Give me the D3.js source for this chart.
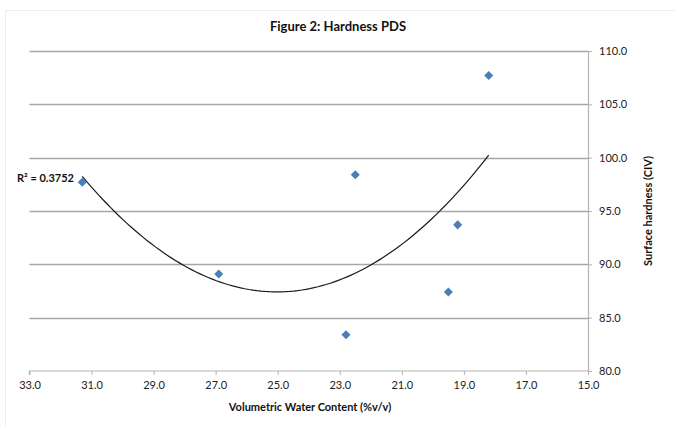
<!DOCTYPE html>
<html><head><meta charset="utf-8">
<script src="https://cdn.jsdelivr.net/npm/d3@7"></script>
<style>
html,body{margin:0;padding:0;background:#fff;}
text{font-family:Lato,"Open Sans",Arial,sans-serif;}
</style></head>
<body>
<script>
// Data
const waterContent = [31.3, 26.9, 22.5, 22.8, 19.5, 19.2, 18.2];
const hardness     = [97.7, 89.1, 98.4, 83.4, 87.4, 93.7, 107.7];
const xTicks = [33, 31, 29, 27, 25, 23, 21, 19, 17, 15];
const yTicks = [80, 85, 90, 95, 100, 105, 110];
const rSquaredLabel = "R² = 0.3752";
const title = "Figure 2: Hardness PDS";
const xTitle = "Volumetric Water Content (%v/v)";
const yTitle = "Surface hardness (CIV)";

const W = 675, H = 426;
const svg = d3.select("body").append("svg").attr("width", W).attr("height", H);

// chart frame
svg.append("rect").attr("x", 5.5).attr("y", 10.5).attr("width", 700).attr("height", 440)
  .attr("fill", "#fff").attr("stroke", "#ececec");

const x = d3.scaleLinear().domain([33, 15]).range([29.5, 588]);
const y = d3.scaleLinear().domain([80, 110]).range([371, 51]);

// gridlines
svg.append("g").selectAll("line").data(yTicks.slice(1)).join("line")
  .attr("x1", x(33)).attr("x2", x(15))
  .attr("y1", d => Math.round(y(d)) + 0.5).attr("y2", d => Math.round(y(d)) + 0.5)
  .attr("stroke", "#a6a6a6").attr("stroke-width", 1.4);

// x axis
const xAxis = d3.axisBottom(x).tickValues(xTicks).tickFormat(d3.format(".1f"))
  .tickSize(4).tickPadding(4);
const gx = svg.append("g").attr("transform", `translate(0,${y(80)})`).call(xAxis);
gx.select(".domain").attr("stroke", "#b3b3b3").attr("stroke-width", 1.2).attr("d", `M${x(33)},4V0H${x(15)}V0`);
gx.selectAll(".tick line").attr("stroke", "#b3b3b3").attr("y1", 0).attr("y2", -4).attr("transform","translate(0,4)");
gx.selectAll(".tick text").attr("fill", "#222").attr("font-size", 11).attr("dy", "0.95em");

// y axis on right
const yAxis = d3.axisRight(y).tickValues(yTicks).tickFormat(d3.format(".1f"))
  .tickSize(4).tickPadding(7);
const gy = svg.append("g").attr("transform", `translate(${x(15)},0)`).call(yAxis);
gy.select(".domain").attr("stroke", "#b3b3b3").attr("stroke-width", 1.2);
gy.selectAll(".tick line").attr("stroke", "#b3b3b3");
gy.selectAll(".tick text").attr("fill", "#222").attr("font-size", 11);

// quadratic least squares trendline computed from the data
function quadFit(xs, ys) {
  const n = xs.length;
  let S = [0,0,0,0,0], T = [0,0,0];
  for (let i = 0; i < n; i++) {
    for (let k = 0; k < 5; k++) S[k] += Math.pow(xs[i], k);
    for (let k = 0; k < 3; k++) T[k] += Math.pow(xs[i], k) * ys[i];
  }
  const A = [[S[0],S[1],S[2],T[0]],[S[1],S[2],S[3],T[1]],[S[2],S[3],S[4],T[2]]];
  for (let i = 0; i < 3; i++) {
    let p = i; for (let r = i+1; r < 3; r++) if (Math.abs(A[r][i]) > Math.abs(A[p][i])) p = r;
    [A[i], A[p]] = [A[p], A[i]];
    for (let r = 0; r < 3; r++) if (r !== i) {
      const f = A[r][i] / A[i][i];
      for (let c = i; c < 4; c++) A[r][c] -= f * A[i][c];
    }
  }
  return [A[0][3]/A[0][0], A[1][3]/A[1][1], A[2][3]/A[2][2]];
}
const coef = quadFit(waterContent, hardness);
const f = v => coef[0] + coef[1]*v + coef[2]*v*v;
const xmin = d3.min(waterContent), xmax = d3.max(waterContent);
const curve = d3.range(0, 101).map(i => xmin + (xmax - xmin) * i / 100);
svg.append("path").datum(curve)
  .attr("d", d3.line().x(d => x(d)).y(d => y(f(d))))
  .attr("fill", "none").attr("stroke", "#1a1a1a").attr("stroke-width", 1.2);

// markers
svg.append("g").selectAll("path").data(waterContent.map((v, i) => [v, hardness[i]])).join("path")
  .attr("transform", d => `translate(${x(d[0])},${y(d[1])})`)
  .attr("d", d3.symbol(d3.symbolDiamond2, 52))
  .attr("fill", "#4a7ebb");

// R² label
svg.append("text").attr("x", 17).attr("y", 182).attr("font-size", 11).attr("font-weight", "bold")
  .attr("fill", "#111").text(rSquaredLabel);

// titles
svg.append("text").attr("x", 338).attr("y", 31).attr("text-anchor", "middle")
  .attr("font-size", 13).attr("font-weight", "bold").attr("fill", "#111").text(title);
svg.append("text").attr("x", 310).attr("y", 411).attr("text-anchor", "middle")
  .attr("font-size", 11).attr("font-weight", "bold").attr("fill", "#111").text(xTitle);
svg.append("text").attr("transform", "translate(652,211) rotate(-90)").attr("text-anchor", "middle")
  .attr("font-size", 11).attr("font-weight", "bold").attr("fill", "#111").text(yTitle);
</script>
</body></html>
